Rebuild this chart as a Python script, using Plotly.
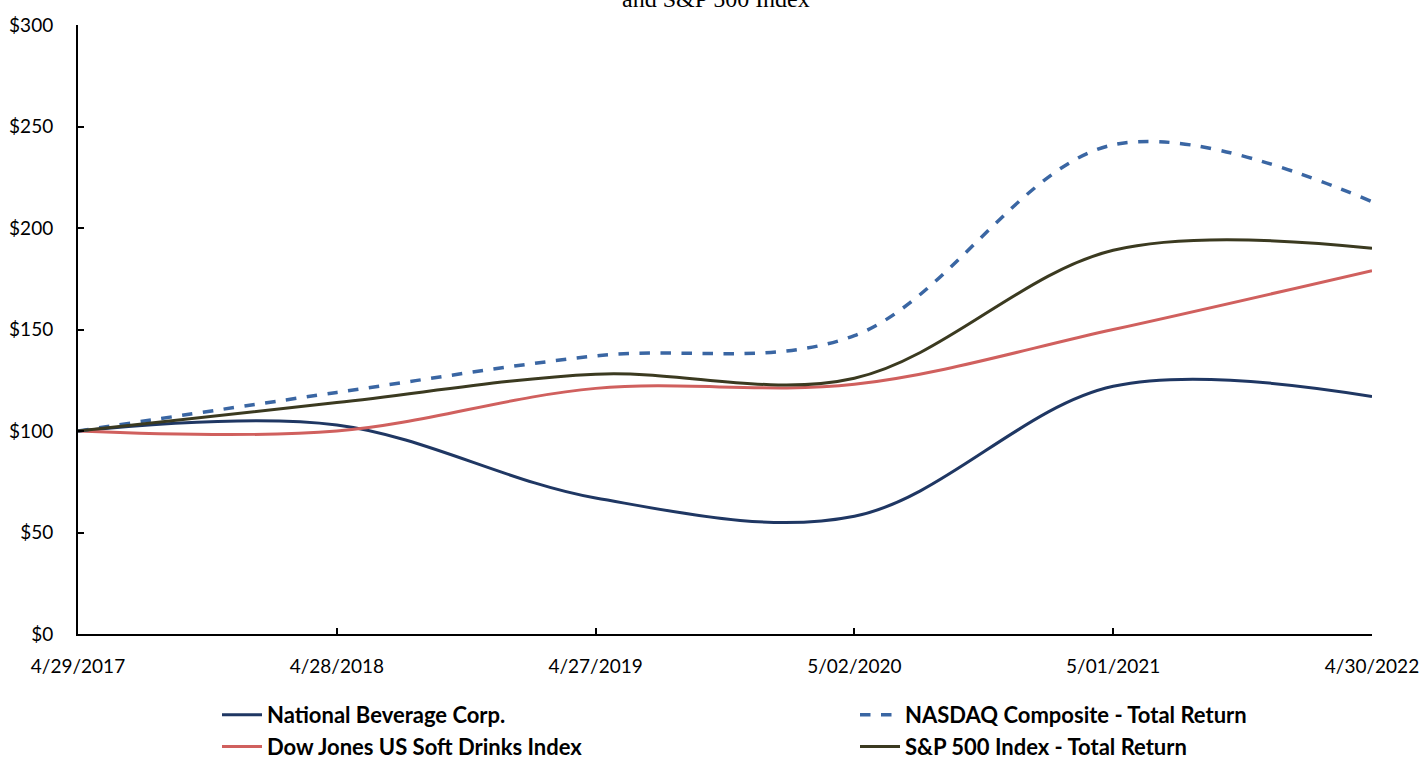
import plotly.graph_objects as go

dates = ["4/29/2017", "4/28/2018", "4/27/2019", "5/02/2020", "5/01/2021", "4/30/2022"]
national_beverage = [100, 103, 67, 58, 122, 117]
nasdaq = [100, 119, 137, 147, 241, 213]
dow_jones_soft = [100, 100, 121, 123, 150, 179]
sp500 = [100, 114, 128, 126, 189, 190]
y_ticks = [0, 50, 100, 150, 200, 250, 300]
y_tick_labels = ["$" + str(v) for v in y_ticks]

x = list(range(len(dates)))

fig = go.Figure()
fig.add_trace(go.Scatter(x=x, y=national_beverage, name="National Beverage Corp.", mode="lines",
                         legend="legend",
                         line=dict(color="#1f3763", width=3, shape="spline", smoothing=1)))
fig.add_trace(go.Scatter(x=x, y=dow_jones_soft, name="Dow Jones US Soft Drinks Index", mode="lines",
                         legend="legend",
                         line=dict(color="#d0605e", width=3, shape="spline", smoothing=1)))
fig.add_trace(go.Scatter(x=x, y=nasdaq, name="NASDAQ Composite - Total Return", mode="lines",
                         legend="legend2",
                         line=dict(color="#3a66a3", width=3.5, shape="spline", smoothing=1, dash="dash")))
fig.add_trace(go.Scatter(x=x, y=sp500, name="S&P 500 Index - Total Return", mode="lines",
                         legend="legend2",
                         line=dict(color="#3b3a20", width=3, shape="spline", smoothing=1)))

legend_font = dict(family="Lato", size=22, color="black", weight="bold")
fig.update_layout(
    width=1422, height=760,
    margin=dict(l=78, r=50, t=25, b=126, autoexpand=False),
    plot_bgcolor="white", paper_bgcolor="white",
    font=dict(family="Lato", size=19, color="black"),
    showlegend=True,
    legend=dict(orientation="v", xref="container", yref="container",
                x=217/1422, xanchor="left", y=1 - 731/760, yanchor="middle",
                font=legend_font, itemwidth=40, tracegroupgap=0, bgcolor="rgba(0,0,0,0)"),
    legend2=dict(orientation="v", xref="container", yref="container",
                 x=855/1422, xanchor="left", y=1 - 731/760, yanchor="middle",
                 font=legend_font, itemwidth=40, tracegroupgap=0, bgcolor="rgba(0,0,0,0)"),
    annotations=[dict(text="and S&P 500 Index", x=(716 - 78)/1294, xref="paper", xanchor="center",
                      y=1.018, yref="paper", yanchor="bottom", showarrow=False,
                      font=dict(family="Liberation Serif", size=24, color="black"))],
)
fig.update_xaxes(range=[0, 5], tickvals=x, ticktext=dates, showgrid=False, zeroline=False,
                 showline=True, linecolor="black", linewidth=2, ticks="inside", ticklen=6,
                 tickcolor="black", tickwidth=1.5, ticklabelstandoff=14, tickangle=0,
                 automargin=False)
fig.update_yaxes(range=[0, 300], tickvals=y_ticks, ticktext=y_tick_labels, showgrid=False,
                 zeroline=False, showline=True, linecolor="black", linewidth=2,
                 ticks="inside", ticklen=6, tickcolor="black", tickwidth=1.5,
                 ticklabelstandoff=19, automargin=False)

fig.write_html("out.html")
